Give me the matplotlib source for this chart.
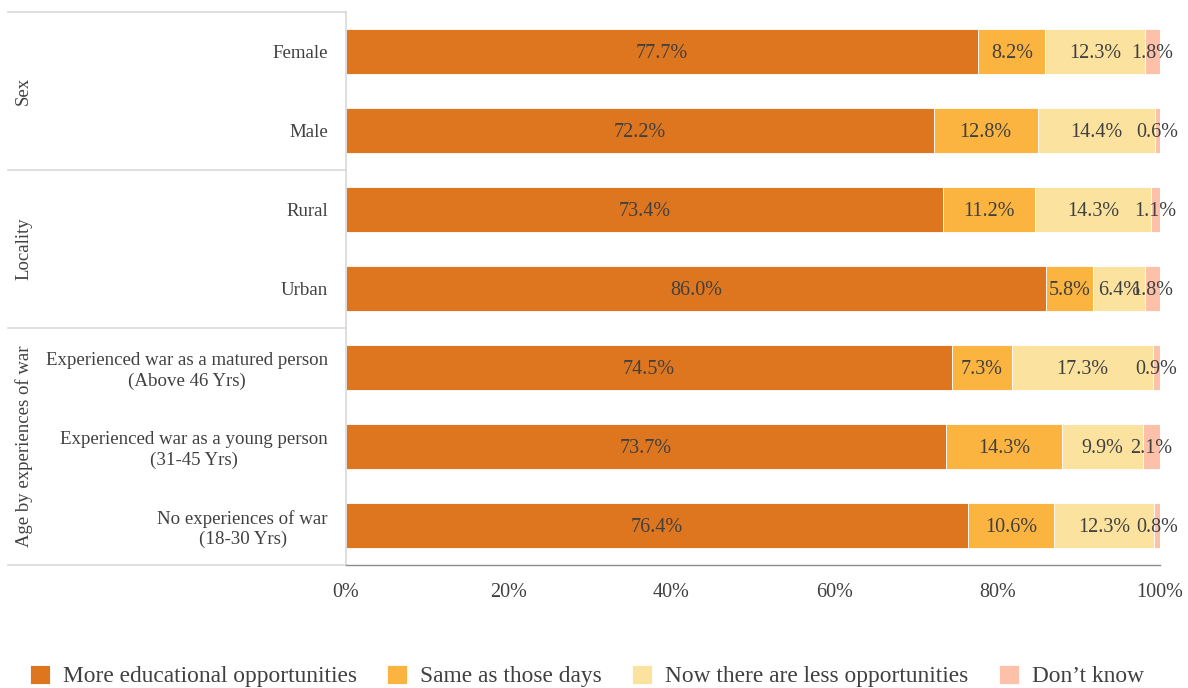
import matplotlib.pyplot as plt
import numpy as np

plt.rcParams['font.family'] = ['Liberation Serif', 'DejaVu Serif']

# survey answers, in percent
categories = ['Female', 'Male', 'Rural', 'Urban',
              'Experienced war as a matured person\n(Above 46 Yrs)',
              'Experienced war as a young person\n(31-45 Yrs)',
              'No experiences of war\n(18-30 Yrs)']
groups = ['Sex', 'Locality', 'Age by experiences of war']
group_sizes = [2, 2, 3]

more_opps = [77.7, 72.2, 73.4, 86.0, 74.5, 73.7, 76.4]
same_opps = [8.2, 12.8, 11.2, 5.8, 7.3, 14.3, 10.6]
less_opps = [12.3, 14.4, 14.3, 6.4, 17.3, 9.9, 12.3]
dont_know = [1.8, 0.6, 1.1, 1.8, 0.9, 2.1, 0.8]

series = [more_opps, same_opps, less_opps, dont_know]
series_names = ['More educational opportunities', 'Same as those days',
                'Now there are less opportunities', 'Don\u2019t know']
colors = ['#DE761F', '#FBB43F', '#FBE29F', '#FDC1A9']
text_color = '#404040'

fig = plt.figure(figsize=(11.88, 6.88), dpi=100)
ax = fig.add_axes([0.2912, 0.1788, 0.6852, 0.8038])

y = np.arange(len(categories))
left = np.zeros(len(categories))
for vals, name, col in zip(series, series_names, colors):
    vals = np.array(vals)
    ax.barh(y, vals, left=left, height=0.57, color=col, label=name,
            edgecolor='white', linewidth=0.6)
    for yi, l, v in zip(y, left, vals):
        ax.text(l + v / 2, yi, f'{v:.1f}%', ha='center', va='center_baseline',
                fontsize=14.5, color=text_color)
    left += vals

ax.set_xlim(0, 100)
ax.set_ylim(len(categories) - 0.5, -0.5)
ax.set_xticks(range(0, 101, 20))
ax.set_xticklabels([f'{t}%' for t in range(0, 101, 20)], fontsize=14.5, color=text_color)
ax.set_yticks(y)
ax.set_yticklabels(categories, fontsize=13.6, color=text_color)
for t in ax.get_yticklabels():
    t.set_multialignment('center')
    t.set_linespacing(1.25)
    t.set_verticalalignment('center_baseline')
ax.tick_params(axis='both', length=0)
ax.tick_params(axis='x', pad=13)
ax.tick_params(axis='y', pad=13)

for s in ['top', 'right']:
    ax.spines[s].set_visible(False)
ax.spines['left'].set_color('#D9D9D9')
ax.spines['left'].set_linewidth(1.2)
ax.spines['bottom'].set_color('#8C8C8C')
ax.spines['bottom'].set_linewidth(1.0)

# group table on the left
trans = ax.get_yaxis_transform()
x_edge = -0.4152
start = 0
bounds = [-0.5]
for g, n in zip(groups, group_sizes):
    mid = start + (n - 1) / 2
    ax.text(-0.396, mid, g, rotation=90, ha='center', va='center',
            fontsize=13.5, color=text_color, transform=trans)
    start += n
    bounds.append(start - 0.5)
for b in bounds:
    ax.plot([x_edge, 0], [b, b], color='#D9D9D9', lw=1.2,
            transform=trans, clip_on=False)

fig.legend(loc='center', bbox_to_anchor=(0.494, 0.0174), ncol=4,
           frameon=False, fontsize=16.8, handlelength=0.86, handleheight=0.86,
           columnspacing=1.29, handletextpad=0.56, labelcolor=text_color,
           borderpad=0)

fig.savefig('out.png', dpi=100)
